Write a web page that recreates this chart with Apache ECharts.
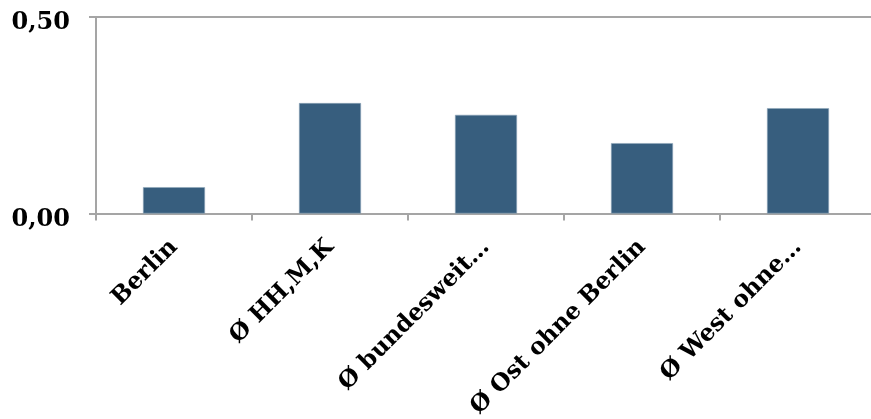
<!DOCTYPE html>
<html>
<head>
<meta charset="utf-8">
<script src="https://cdn.jsdelivr.net/npm/echarts@6/dist/echarts.min.js"></script>
<style>
  html, body { margin: 0; padding: 0; background: #fff; }
  #chart { width: 871px; height: 419px; }
</style>
</head>
<body>
<div id="chart"></div>
<script>
// Werte
const categories = ["Berlin", "Ø HH,M,K", "Ø bundesweit…", "Ø Ost ohne Berlin", "Ø West ohne…"];
const values = [0.067, 0.281, 0.251, 0.179, 0.268];
const yMin = 0;
const yMax = 0.5;
const yStep = 0.5;

const axisGrey = "#a5a5a5";
const fontBase = {
  color: "#000",
  fontFamily: "DejaVu Serif",
  fontWeight: "bold"
};

// Diagramm ist rechts abgeschnitten: Raster reicht über den Rand hinaus
const chart = echarts.init(document.getElementById("chart"));
chart.setOption({
  animation: false,
  grid: {
    left: 96,
    top: 17,
    width: 780,
    height: 196.5,
    outerBoundsMode: "none",
    containLabel: false
  },
  xAxis: {
    type: "category",
    data: categories,
    boundaryGap: true,
    axisLine: { lineStyle: { color: axisGrey, width: 2 } },
    axisTick: { show: true, length: 7, lineStyle: { color: axisGrey, width: 2 } },
    axisLabel: Object.assign({ rotate: 45, margin: 30, interval: 0, fontSize: 23.5 }, fontBase)
  },
  yAxis: {
    type: "value",
    min: yMin,
    max: yMax,
    interval: yStep,
    axisLine: { show: true, lineStyle: { color: axisGrey, width: 2 } },
    axisTick: { show: true, length: 7, lineStyle: { color: axisGrey, width: 2 } },
    splitLine: { show: true, lineStyle: { color: axisGrey, width: 2 } },
    axisLabel: {
      margin: 26,
      formatter: v => "{n|" + v.toFixed(2).replace(".", ",") + "}",
      rich: {
        n: Object.assign({ fontSize: 24, padding: [12, 0, 0, 0] }, fontBase)
      }
    }
  },
  series: [
    {
      type: "bar",
      data: values,
      barWidth: 62,
      itemStyle: {
        color: "#375e7e",
        borderColor: "#8fa6ba",
        borderWidth: 0.6
      }
    }
  ]
});
</script>
</body>
</html>
